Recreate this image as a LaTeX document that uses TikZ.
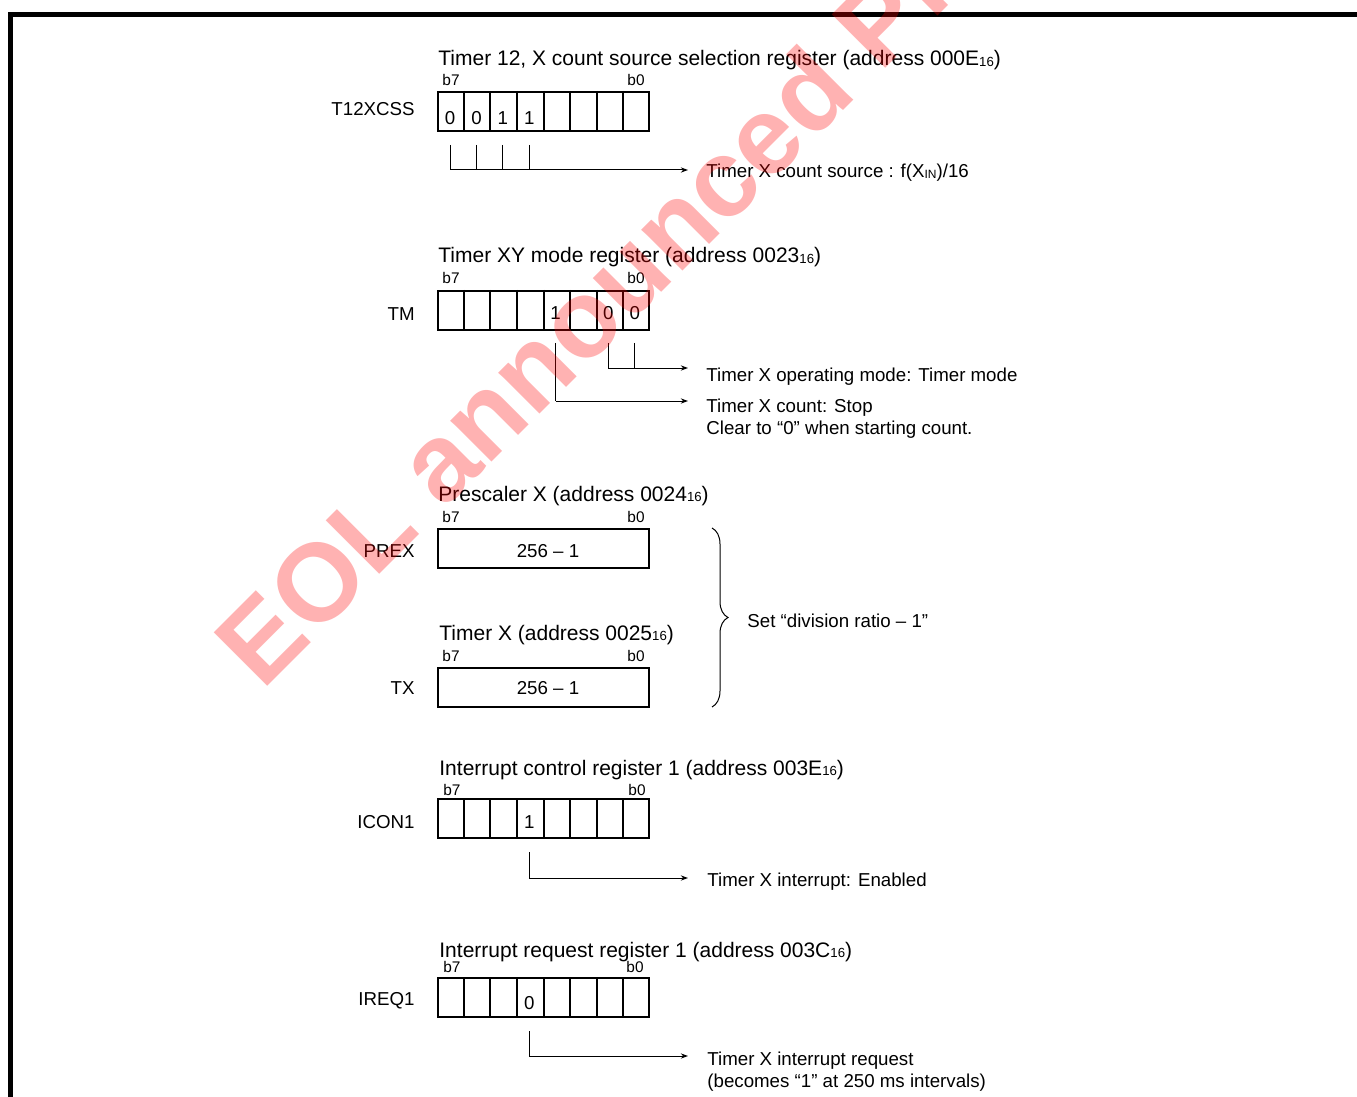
\documentclass[tikz,border=0pt]{standalone}
\usepackage{fontspec}
\setmainfont{Liberation Sans}
\usetikzlibrary{arrows.meta,calc,decorations.pathreplacing}
\newcommand{\subsc}[1]{\raisebox{-0.4pt}{\fontsize{6.6}{7}\selectfont #1}}
\newcommand{\subsd}[1]{\raisebox{-0.4pt}{\fontsize{6.0}{7}\selectfont #1}}
\begin{document}
\begin{tikzpicture}[x=0.5pt,y=-0.5pt,
  title/.style={anchor=base west,inner sep=0,font=\fontsize{10.5}{12}\selectfont},
  bitlbl/.style={anchor=base,inner sep=0,font=\fontsize{7.7}{9}\selectfont},
  reglbl/.style={anchor=base east,inner sep=0,font=\fontsize{9.35}{11}\selectfont},
  val/.style={anchor=base,inner sep=0,font=\fontsize{9.35}{11}\selectfont},
  desc/.style={anchor=base west,inner sep=0,align=left,font=\fontsize{9.35}{10.8}\selectfont},
  regbox/.style={draw,line width=1pt,minimum width=105.5pt,minimum height=19.5pt,inner sep=0,anchor=north west},
  cell/.style={line width=1pt},
  conn/.style={line width=0.5pt},
  arr/.style={line width=0.5pt,-{Stealth[length=3.6pt,width=2.6pt]}},
  wm/.style={rotate=45,anchor=base west,inner sep=0,text=red,opacity=0.3,font=\fontsize{55}{60}\selectfont\bfseries}
]
\useasboundingbox (0,0) rectangle (1357,1097);
\clip (0,0) rectangle (1357,1097);
% frame
\draw[line width=2.5pt] (10.5,1097) -- (10.5,14.5) -- (1357,14.5);

% ---------- T12XCSS ----------
\node[title] (t1) at (438,66) {Timer 12, X count source selection register (address 000E\subsc{16})};
\node[bitlbl] (t1b7) at (451,86) {b7};
\node[bitlbl] (t1b0) at (636,86) {b0};
\node[reglbl] (l1) at (415,116) {T12XCSS};
\node[regbox] (r1) at (437,91) {};
\foreach \i in {1,...,7} \draw[cell] ($(r1.north west)!\i/8!(r1.north east)$) -- ($(r1.south west)!\i/8!(r1.south east)$);
\node[val] (v10) at (450.19,125) {0};
\node[val] (v11) at (476.56,125) {0};
\node[val] (v12) at (502.94,125) {1};
\node[val] (v13) at (529.31,125) {1};
\coordinate (p10) at (450.19,145);
\coordinate (p11) at (476.56,145);
\coordinate (p12) at (502.94,145);
\coordinate (p13) at (529.31,145);
\coordinate (c1) at (450.19,170);
\coordinate (e1) at (688,170);
\node[desc] (d1) at (706,178) {Timer X count source : f(X\subsd{IN})/16};
\draw[conn] (p10) -- (c1);
\foreach \n in {p11,p12,p13} \draw[conn] (\n) -- (\n |- c1);
\draw[arr] (c1) -- (e1);

% ---------- TM ----------
\node[title] (t2) at (438,263) {Timer XY mode register (address 0023\subsc{16})};
\node[bitlbl] (t2b7) at (451,284) {b7};
\node[bitlbl] (t2b0) at (636,284) {b0};
\node[reglbl] (l2) at (415,321) {TM};
\node[regbox] (r2) at (437,290) {};
\foreach \i in {1,...,7} \draw[cell] ($(r2.north west)!\i/8!(r2.north east)$) -- ($(r2.south west)!\i/8!(r2.south east)$);
\node[val] (v24) at (555.69,320) {1};
\node[val] (v26) at (608.44,320) {0};
\node[val] (v27) at (634.81,320) {0};
\coordinate (p24) at (555.69,343);
\coordinate (p26) at (608.44,343);
\coordinate (p27) at (634.81,343);
\coordinate (c2) at (608.44,368);
\coordinate (e2) at (688,368);
\coordinate (c3) at (555.69,401);
\coordinate (e3) at (688,401);
\node[desc] (d2) at (706,381) {Timer X operating mode: Timer mode};
\node[desc] (d3) at (706,434) {Timer X count: Stop\\Clear to “0” when starting count.};
\draw[conn] (p26) -- (c2);
\draw[conn] (p27) -- (p27 |- c2);
\draw[arr] (c2) -- (e2);
\draw[conn] (p24) -- (c3);
\draw[arr] (c3) -- (e3);

% ---------- PREX ----------
\node[title] (t3) at (438,501) {Prescaler X (address 0024\subsc{16})};
\node[bitlbl] (t3b7) at (451,522) {b7};
\node[bitlbl] (t3b0) at (636,522) {b0};
\node[reglbl] (l3) at (415,557) {PREX};
\node[regbox] (r3) at (437,528) {};
\node[val] (v3) at (548,557) {256 – 1};

% ---------- TX ----------
\node[title] (t4) at (439,640) {Timer X (address 0025\subsc{16})};
\node[bitlbl] (t4b7) at (451,661) {b7};
\node[bitlbl] (t4b0) at (636,661) {b0};
\node[reglbl] (l4) at (415,694) {TX};
\node[regbox] (r4) at (437,667) {};
\node[val] (v4) at (548,694) {256 – 1};

\coordinate (bt) at (712,528);
\coordinate (bb) at (712,707);
\draw[conn,decorate,decoration={brace,amplitude=8pt}] (bt) -- (bb);
\node[desc] (d4) at (747,627) {Set “division ratio – 1”};

% ---------- ICON1 ----------
\node[title] (t5) at (439,775) {Interrupt control register 1 (address 003E\subsc{16})};
\node[bitlbl] (t5b7) at (452,795) {b7};
\node[bitlbl] (t5b0) at (637,795) {b0};
\node[reglbl] (l5) at (415,828) {ICON1};
\node[regbox] (r5) at (437,798) {};
\foreach \i in {1,...,7} \draw[cell] ($(r5.north west)!\i/8!(r5.north east)$) -- ($(r5.south west)!\i/8!(r5.south east)$);
\node[val] (v53) at (529.31,828) {1};
\coordinate (p53) at (529.31,852);
\coordinate (c5) at (529.31,878);
\coordinate (e5) at (688,878);
\node[desc] (d5) at (707,886) {Timer X interrupt: Enabled};
\draw[conn] (p53) -- (c5);
\draw[arr] (c5) -- (e5);

% ---------- IREQ1 ----------
\node[title] (t6) at (439,957) {Interrupt request register 1 (address 003C\subsc{16})};
\node[bitlbl] (t6b7) at (452,972) {b7};
\node[bitlbl] (t6b0) at (635,972) {b0};
\node[reglbl] (l6) at (415,1005) {IREQ1};
\node[regbox] (r6) at (437,977) {};
\foreach \i in {1,...,7} \draw[cell] ($(r6.north west)!\i/8!(r6.north east)$) -- ($(r6.south west)!\i/8!(r6.south east)$);
\node[val] (v63) at (529.31,1009) {0};
\coordinate (p63) at (529.31,1031);
\coordinate (c6) at (529.31,1056);
\coordinate (e6) at (688,1056);
\node[desc] (d6) at (707,1087) {Timer X interrupt request\\(becomes “1” at 250 ms intervals)};
\draw[conn] (p63) -- (c6);
\draw[arr] (c6) -- (e6);

% ---------- watermark ----------
\node[wm] (wmk) at (262,692) {EOL announced Product};
\end{tikzpicture}
\end{document}
